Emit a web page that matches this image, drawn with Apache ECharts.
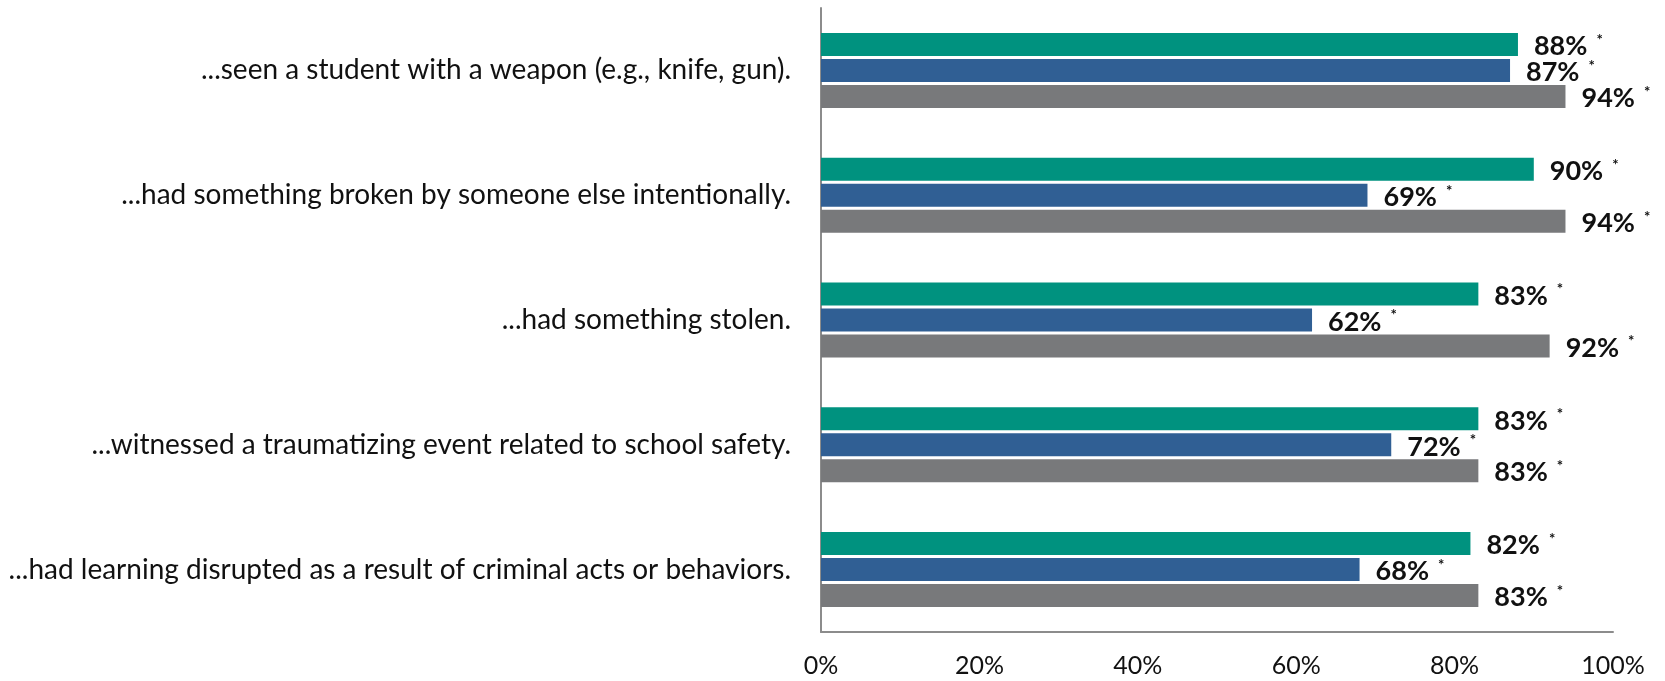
<!DOCTYPE html>
<html>
<head>
<meta charset="utf-8">
<script src="https://cdn.jsdelivr.net/npm/echarts@6/dist/echarts.min.js"></script>
<style>
  html, body { margin: 0; padding: 0; background: #ffffff; }
  #chart { width: 1665px; height: 681px; }
</style>
</head>
<body>
<div id="chart"></div>
<script>
// Survey items, listed top to bottom
const categories = [
  '...seen a student with a weapon (e.g., knife, gun).',
  '...had something broken by someone else intentionally.',
  '...had something stolen.',
  '...witnessed a traumatizing event related to school safety.',
  '...had learning disrupted as a result of criminal acts or behaviors.'
];

// Percent of respondents per group
const groupA = [88, 90, 83, 83, 82];
const groupB = [87, 69, 62, 72, 68];
const groupC = [94, 94, 92, 83, 83];

const seriesNames = ['Group A', 'Group B', 'Group C'];
const seriesColors = ['#00927F', '#305F94', '#78797B'];

// x axis runs 0–100% in steps of 20
const xMin = 0;
const xMax = 100;
const xStep = 20;

const FONT = 'Lato, "Open Sans", sans-serif';
const TEXT = '#111111';
const AXIS = '#8C8C8C';

function makeSeries(name, data, color) {
  return {
    name: name,
    type: 'bar',
    data: data,
    barWidth: 23,
    barGap: '13%',
    itemStyle: { color: color },
    label: {
      show: true,
      position: 'right',
      distance: 16,
      offset: [0, 2],
      formatter: p => '{v|' + p.value + '%}{s|*}',
      rich: {
        v: { fontFamily: FONT, fontSize: 27, fontWeight: 'bold', color: TEXT, lineHeight: 28 },
        s: { fontFamily: FONT, fontSize: 15, fontWeight: 'bold', color: TEXT, verticalAlign: 'top', padding: [0, 0, 0, 9], lineHeight: 28 }
      }
    },
    emphasis: { disabled: true }
  };
}

const chart = echarts.init(document.getElementById('chart'), null, { renderer: 'canvas' });

chart.setOption({
  animation: false,
  backgroundColor: '#ffffff',
  grid: {
    left: 821,
    right: 52,
    top: 8,
    bottom: 49,
    containLabel: false,
    outerBoundsMode: 'none'
  },
  xAxis: {
    type: 'value',
    min: xMin,
    max: xMax,
    interval: xStep,
    splitLine: { show: false },
    axisTick: { show: false },
    axisLine: { show: true, lineStyle: { color: AXIS, width: 2 } },
    axisLabel: {
      formatter: '{value}%',
      fontFamily: FONT,
      fontSize: 25,
      color: TEXT,
      margin: 21
    }
  },
  yAxis: {
    type: 'category',
    data: categories,
    inverse: true,
    axisTick: { show: false },
    axisLine: { show: true, lineStyle: { color: AXIS, width: 2 } },
    axisLabel: {
      fontFamily: FONT,
      fontSize: 28,
      color: TEXT,
      margin: 30
    }
  },
  series: [
    makeSeries(seriesNames[0], groupA, seriesColors[0]),
    makeSeries(seriesNames[1], groupB, seriesColors[1]),
    makeSeries(seriesNames[2], groupC, seriesColors[2])
  ]
});
</script>
</body>
</html>
